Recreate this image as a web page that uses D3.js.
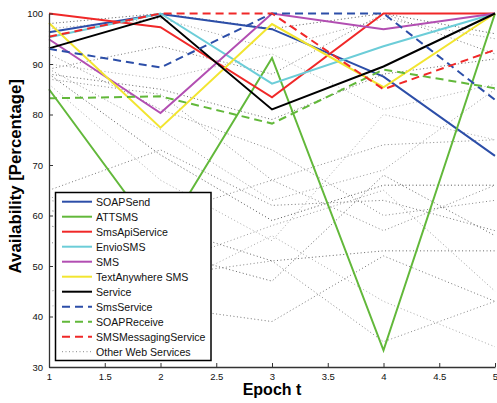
<!DOCTYPE html>
<html>
<head>
<meta charset="utf-8">
<script src="https://cdn.jsdelivr.net/npm/d3@7/dist/d3.min.js"></script>
<style>
  html, body { margin: 0; padding: 0; background: #fff; }
  svg { display: block; font-family: "Liberation Sans", Arial, Helvetica, sans-serif; }
</style>
</head>
<body>
<svg id="chart" width="497" height="403"></svg>
<script>
// ---- Data ----
const epochs = [1, 2, 3, 4, 5];
const xTicks = [1, 1.5, 2, 2.5, 3, 3.5, 4, 4.5, 5];
const yTicks = [30, 40, 50, 60, 70, 80, 90, 100];

const seriesNames = ["SOAPSend", "ATTSMS", "SmsApiService", "EnvioSMS", "SMS",
  "TextAnywhere SMS", "Service", "SmsService", "SOAPReceive", "SMSMessagingService"];
const seriesColors = ["#2c4ea8", "#62b83a", "#f02828", "#6ccdd8", "#b24eb2",
  "#f2e530", "#000000", "#2c4ea8", "#62b83a", "#f02828"];
const seriesDashed = [false, false, false, false, false, false, false, true, true, true];

const SOAPSend            = [96.3, 99.9, 96.9, 87.5, 71.8];
const ATTSMS              = [85.0, 55.0, 91.2, 33.3, 100];
const SmsApiService       = [100, 97.3, 83.4, 100, 100];
const EnvioSMS            = [95.3, 100, 86.1, 93.5, 100];
const SMS                 = [94.9, 80.3, 100, 96.9, 100];
const TextAnywhereSMS     = [98.1, 77.4, 97.9, 85.4, 100];
const Service             = [93.1, 99.5, 81.0, 89.5, 100];
const SmsService          = [93.0, 89.3, 100, 100, 82.9];
const SOAPReceive         = [83.2, 83.6, 78.2, 88.9, 85.2];
const SMSMessagingService = [95.4, 100, 100, 85.0, 92.8];

const seriesValues = [SOAPSend, ATTSMS, SmsApiService, EnvioSMS, SMS,
  TextAnywhereSMS, Service, SmsService, SOAPReceive, SMSMessagingService];

// Other Web Services (dotted)
const otherServices = [
  [98, 100, 97, 100, 96],
  [97, 99, 93, 99, 95],
  [89, 93.5, 88, 100, 92],
  [90, 87, 92, 81, 86],
  [88, 85, 79, 88, 91],
  [87, 84, 67, 74, 75],
  [89, 77, 63, 69, 85],
  [88, 72, 59, 66, 66],
  [86, 67, 55, 80, 75],
  [65, 73, 62, 63, 57],
  [63, 60, 67, 57, 66],
  [61, 58, 51, 53, 53],
  [64, 50, 58, 65, 45],
  [55, 42, 39, 52, 43],
  [45, 48, 51, 35, 43],
  [42, 45, 56, 43, 34],
  [58, 53, 47, 68, 56],
  [92, 81, 73, 60, 63]
];
const otherGrays = ["#555", "#999", "#777", "#aaa", "#666", "#888", "#999", "#555",
  "#aaa", "#777", "#888", "#666", "#999", "#777", "#888", "#aaa", "#666", "#888"];

// ---- Layout ----
const svg = d3.select("#chart");
const mLeft = 49, mRight = 495, mTop = 13.5, mBottom = 367;

const x = d3.scaleLinear().domain([1, 5]).range([mLeft, mRight]);
const y = d3.scaleLinear().domain([30, 100]).range([mBottom, mTop]);

const line = d3.line().x((d, i) => x(epochs[i])).y(d => y(d));

// dotted lines
svg.append("g").selectAll("path").data(otherServices).join("path")
  .attr("d", d => line(d))
  .attr("fill", "none")
  .attr("stroke", (d, i) => otherGrays[i % otherGrays.length])
  .attr("stroke-width", 1)
  .attr("stroke-dasharray", "1,2.5");

// colored series
svg.append("g").selectAll("path").data(seriesValues).join("path")
  .attr("d", d => line(d))
  .attr("fill", "none")
  .attr("stroke", (d, i) => seriesColors[i])
  .attr("stroke-width", 2)
  .attr("stroke-linejoin", "miter")
  .attr("stroke-dasharray", (d, i) => seriesDashed[i] ? "8,5" : null);

// axes
const axisColor = "#333";
const xAxis = svg.append("g").attr("transform", `translate(0,${mBottom})`)
  .call(d3.axisBottom(x).tickValues(xTicks).tickSizeInner(-4).tickSizeOuter(0)
    .tickFormat(d3.format("~g")));
const yAxis = svg.append("g").attr("transform", `translate(${mLeft},0)`)
  .call(d3.axisLeft(y).tickValues(yTicks).tickSizeInner(-4).tickSizeOuter(0)
    .tickFormat(d3.format("~g")));
[xAxis, yAxis].forEach(g => {
  g.select(".domain").attr("stroke", axisColor).attr("stroke-width", 1.3);
  g.selectAll(".tick line").attr("stroke", axisColor).attr("stroke-width", 1);
  g.selectAll(".tick text").attr("fill", "#111").style("font-size", "9.5px")
    .style("font-family", "'Liberation Sans', Arial, sans-serif");
});
xAxis.selectAll(".tick text").attr("y", 6);
yAxis.selectAll(".tick text").attr("x", -6);

// axis titles
svg.append("text").attr("x", (mLeft + mRight) / 2).attr("y", 395)
  .attr("text-anchor", "middle").style("font-size", "16px").style("font-weight", "bold")
  .text("Epoch t");
svg.append("text").attr("transform", `translate(21,${(mTop + mBottom) / 2 - 14}) rotate(-90)`)
  .attr("text-anchor", "middle").style("font-size", "16.8px").style("font-weight", "bold")
  .text("Availability [Percentage]");

// legend
const legendNames = seriesNames.concat(["Other Web Services"]);
const lg = svg.append("g");
lg.append("rect").attr("x", 55.5).attr("y", 192.5).attr("width", 155.5).attr("height", 168)
  .attr("fill", "#fff").attr("stroke", "#000").attr("stroke-width", 1.5);
legendNames.forEach((name, i) => {
  const yy = 201.7 + i * 15;
  const isOther = i >= seriesNames.length;
  lg.append("line").attr("x1", 62).attr("x2", 92).attr("y1", yy).attr("y2", yy)
    .attr("stroke", isOther ? "#888" : seriesColors[i])
    .attr("stroke-width", isOther ? 1 : 2)
    .attr("stroke-dasharray", isOther ? "1,2.5" : (seriesDashed[i] ? "8,5" : null));
  lg.append("text").attr("x", 96).attr("y", yy + 4)
    .style("font-size", "10.6px").attr("fill", "#111").text(name);
});
</script>
</body>
</html>
